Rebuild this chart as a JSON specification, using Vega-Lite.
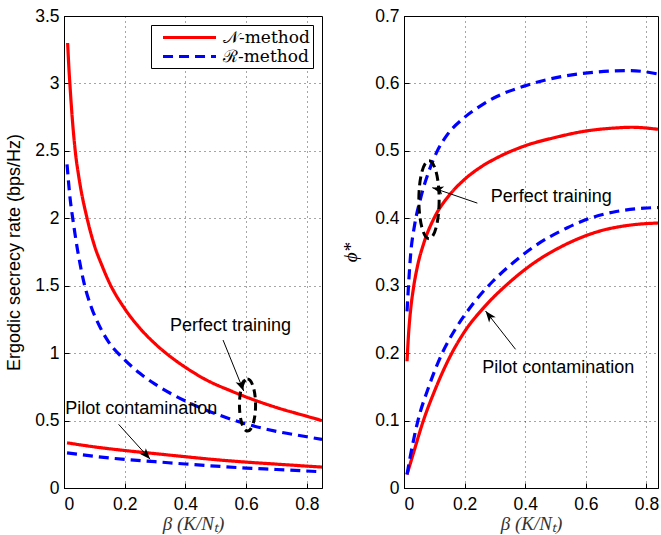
{
  "$schema": "https://vega.github.io/schema/vega-lite/v6.json",
  "padding": {"left": 5, "top": 6, "right": 0, "bottom": 0},
  "background": "white",
  "config": {
    "view": {"stroke": "black", "strokeWidth": 1},
    "axis": {
      "labelFont": "Liberation Sans", "labelFontSize": 17.5, "labelColor": "black",
      "titleFont": "Liberation Sans", "titleFontSize": 18, "titleFontWeight": "normal", "titleColor": "black",
      "domainColor": "black", "gridColor": "black", "gridDash": [1, 4], "gridOpacity": 0.7,
      "ticks": true, "tickSize": -5, "tickColor": "black", "labelPadding": 10, "labelExpr": "'' + datum.value"
    },
    "axisX": {"labelPadding": 12, "titleFont": "Liberation Serif", "titleFontStyle": "italic", "titleFontSize": 19, "titleColor": "#333", "titlePadding": 2},
    "legend": {
      "orient": "top-right", "offset": 9, "strokeColor": "black", "fillColor": "white",
      "padding": 3, "labelFont": "DejaVu Serif", "labelFontSize": 17, "labelColor": "black",
      "symbolType": "M-3.5,0H3.5", "symbolStrokeWidth": 3.2, "symbolSize": 229, "symbolOffset": 26,
      "labelOffset": 24, "rowPadding": 1, "title": null
    }
  },
  "datasets": {
    "left": [
      {"scenario": "perfect", "method": "𝒩-method", "beta": 0.012, "value": 3.30},
      {"scenario": "perfect", "method": "𝒩-method", "beta": 0.016, "value": 3.12},
      {"scenario": "perfect", "method": "𝒩-method", "beta": 0.021, "value": 2.94},
      {"scenario": "perfect", "method": "𝒩-method", "beta": 0.028, "value": 2.72},
      {"scenario": "perfect", "method": "𝒩-method", "beta": 0.037, "value": 2.50},
      {"scenario": "perfect", "method": "𝒩-method", "beta": 0.05, "value": 2.29},
      {"scenario": "perfect", "method": "𝒩-method", "beta": 0.076, "value": 2.00},
      {"scenario": "perfect", "method": "𝒩-method", "beta": 0.1, "value": 1.80},
      {"scenario": "perfect", "method": "𝒩-method", "beta": 0.125, "value": 1.65},
      {"scenario": "perfect", "method": "𝒩-method", "beta": 0.15, "value": 1.52},
      {"scenario": "perfect", "method": "𝒩-method", "beta": 0.2, "value": 1.33},
      {"scenario": "perfect", "method": "𝒩-method", "beta": 0.25, "value": 1.185},
      {"scenario": "perfect", "method": "𝒩-method", "beta": 0.3, "value": 1.07},
      {"scenario": "perfect", "method": "𝒩-method", "beta": 0.35, "value": 0.975},
      {"scenario": "perfect", "method": "𝒩-method", "beta": 0.4, "value": 0.895},
      {"scenario": "perfect", "method": "𝒩-method", "beta": 0.47, "value": 0.80},
      {"scenario": "perfect", "method": "𝒩-method", "beta": 0.55, "value": 0.72},
      {"scenario": "perfect", "method": "𝒩-method", "beta": 0.6, "value": 0.675},
      {"scenario": "perfect", "method": "𝒩-method", "beta": 0.7, "value": 0.597},
      {"scenario": "perfect", "method": "𝒩-method", "beta": 0.8, "value": 0.532},
      {"scenario": "perfect", "method": "𝒩-method", "beta": 0.85, "value": 0.50},
      {"scenario": "perfect", "method": "ℛ-method", "beta": 0.01, "value": 2.40},
      {"scenario": "perfect", "method": "ℛ-method", "beta": 0.02, "value": 2.15},
      {"scenario": "perfect", "method": "ℛ-method", "beta": 0.03, "value": 1.98},
      {"scenario": "perfect", "method": "ℛ-method", "beta": 0.045, "value": 1.76},
      {"scenario": "perfect", "method": "ℛ-method", "beta": 0.065, "value": 1.53},
      {"scenario": "perfect", "method": "ℛ-method", "beta": 0.09, "value": 1.34},
      {"scenario": "perfect", "method": "ℛ-method", "beta": 0.115, "value": 1.21},
      {"scenario": "perfect", "method": "ℛ-method", "beta": 0.142, "value": 1.10},
      {"scenario": "perfect", "method": "ℛ-method", "beta": 0.2, "value": 0.95},
      {"scenario": "perfect", "method": "ℛ-method", "beta": 0.25, "value": 0.85},
      {"scenario": "perfect", "method": "ℛ-method", "beta": 0.3, "value": 0.77},
      {"scenario": "perfect", "method": "ℛ-method", "beta": 0.4, "value": 0.645},
      {"scenario": "perfect", "method": "ℛ-method", "beta": 0.5, "value": 0.55},
      {"scenario": "perfect", "method": "ℛ-method", "beta": 0.6, "value": 0.475},
      {"scenario": "perfect", "method": "ℛ-method", "beta": 0.7, "value": 0.42},
      {"scenario": "perfect", "method": "ℛ-method", "beta": 0.8, "value": 0.38},
      {"scenario": "perfect", "method": "ℛ-method", "beta": 0.85, "value": 0.36},
      {"scenario": "pilot", "method": "𝒩-method", "beta": 0.01, "value": 0.335},
      {"scenario": "pilot", "method": "𝒩-method", "beta": 0.1, "value": 0.305},
      {"scenario": "pilot", "method": "𝒩-method", "beta": 0.2, "value": 0.278},
      {"scenario": "pilot", "method": "𝒩-method", "beta": 0.3, "value": 0.255},
      {"scenario": "pilot", "method": "𝒩-method", "beta": 0.4, "value": 0.232},
      {"scenario": "pilot", "method": "𝒩-method", "beta": 0.5, "value": 0.21},
      {"scenario": "pilot", "method": "𝒩-method", "beta": 0.6, "value": 0.192},
      {"scenario": "pilot", "method": "𝒩-method", "beta": 0.7, "value": 0.177},
      {"scenario": "pilot", "method": "𝒩-method", "beta": 0.85, "value": 0.155},
      {"scenario": "pilot", "method": "ℛ-method", "beta": 0.01, "value": 0.26},
      {"scenario": "pilot", "method": "ℛ-method", "beta": 0.1, "value": 0.235},
      {"scenario": "pilot", "method": "ℛ-method", "beta": 0.2, "value": 0.212},
      {"scenario": "pilot", "method": "ℛ-method", "beta": 0.3, "value": 0.195},
      {"scenario": "pilot", "method": "ℛ-method", "beta": 0.4, "value": 0.178},
      {"scenario": "pilot", "method": "ℛ-method", "beta": 0.5, "value": 0.162},
      {"scenario": "pilot", "method": "ℛ-method", "beta": 0.6, "value": 0.148},
      {"scenario": "pilot", "method": "ℛ-method", "beta": 0.7, "value": 0.137},
      {"scenario": "pilot", "method": "ℛ-method", "beta": 0.85, "value": 0.12}
    ],
    "right": [
      {"scenario": "perfect", "method": "𝒩-method", "beta": 0.01, "value": 0.188},
      {"scenario": "perfect", "method": "𝒩-method", "beta": 0.015, "value": 0.228},
      {"scenario": "perfect", "method": "𝒩-method", "beta": 0.022, "value": 0.265},
      {"scenario": "perfect", "method": "𝒩-method", "beta": 0.03, "value": 0.293},
      {"scenario": "perfect", "method": "𝒩-method", "beta": 0.044, "value": 0.328},
      {"scenario": "perfect", "method": "𝒩-method", "beta": 0.066, "value": 0.364},
      {"scenario": "perfect", "method": "𝒩-method", "beta": 0.099, "value": 0.40},
      {"scenario": "perfect", "method": "𝒩-method", "beta": 0.149, "value": 0.434},
      {"scenario": "perfect", "method": "𝒩-method", "beta": 0.198, "value": 0.457},
      {"scenario": "perfect", "method": "𝒩-method", "beta": 0.25, "value": 0.475},
      {"scenario": "perfect", "method": "𝒩-method", "beta": 0.308, "value": 0.49},
      {"scenario": "perfect", "method": "𝒩-method", "beta": 0.396, "value": 0.507},
      {"scenario": "perfect", "method": "𝒩-method", "beta": 0.5, "value": 0.52},
      {"scenario": "perfect", "method": "𝒩-method", "beta": 0.594, "value": 0.529},
      {"scenario": "perfect", "method": "𝒩-method", "beta": 0.7, "value": 0.534},
      {"scenario": "perfect", "method": "𝒩-method", "beta": 0.75, "value": 0.535},
      {"scenario": "perfect", "method": "𝒩-method", "beta": 0.838, "value": 0.532},
      {"scenario": "perfect", "method": "ℛ-method", "beta": 0.01, "value": 0.262},
      {"scenario": "perfect", "method": "ℛ-method", "beta": 0.022, "value": 0.347},
      {"scenario": "perfect", "method": "ℛ-method", "beta": 0.035, "value": 0.39},
      {"scenario": "perfect", "method": "ℛ-method", "beta": 0.055, "value": 0.43},
      {"scenario": "perfect", "method": "ℛ-method", "beta": 0.088, "value": 0.477},
      {"scenario": "perfect", "method": "ℛ-method", "beta": 0.11, "value": 0.50},
      {"scenario": "perfect", "method": "ℛ-method", "beta": 0.143, "value": 0.524},
      {"scenario": "perfect", "method": "ℛ-method", "beta": 0.198, "value": 0.549},
      {"scenario": "perfect", "method": "ℛ-method", "beta": 0.25, "value": 0.566},
      {"scenario": "perfect", "method": "ℛ-method", "beta": 0.308, "value": 0.581},
      {"scenario": "perfect", "method": "ℛ-method", "beta": 0.396, "value": 0.596},
      {"scenario": "perfect", "method": "ℛ-method", "beta": 0.506, "value": 0.609},
      {"scenario": "perfect", "method": "ℛ-method", "beta": 0.638, "value": 0.617},
      {"scenario": "perfect", "method": "ℛ-method", "beta": 0.748, "value": 0.619},
      {"scenario": "perfect", "method": "ℛ-method", "beta": 0.838, "value": 0.614},
      {"scenario": "pilot", "method": "𝒩-method", "beta": 0.01, "value": 0.02},
      {"scenario": "pilot", "method": "𝒩-method", "beta": 0.03, "value": 0.05},
      {"scenario": "pilot", "method": "𝒩-method", "beta": 0.064, "value": 0.10},
      {"scenario": "pilot", "method": "𝒩-method", "beta": 0.1, "value": 0.143},
      {"scenario": "pilot", "method": "𝒩-method", "beta": 0.152, "value": 0.195},
      {"scenario": "pilot", "method": "𝒩-method", "beta": 0.2, "value": 0.232},
      {"scenario": "pilot", "method": "𝒩-method", "beta": 0.264, "value": 0.268},
      {"scenario": "pilot", "method": "𝒩-method", "beta": 0.348, "value": 0.305},
      {"scenario": "pilot", "method": "𝒩-method", "beta": 0.42, "value": 0.331},
      {"scenario": "pilot", "method": "𝒩-method", "beta": 0.528, "value": 0.36},
      {"scenario": "pilot", "method": "𝒩-method", "beta": 0.638, "value": 0.38},
      {"scenario": "pilot", "method": "𝒩-method", "beta": 0.748, "value": 0.39},
      {"scenario": "pilot", "method": "𝒩-method", "beta": 0.838, "value": 0.393},
      {"scenario": "pilot", "method": "ℛ-method", "beta": 0.01, "value": 0.02},
      {"scenario": "pilot", "method": "ℛ-method", "beta": 0.02, "value": 0.045},
      {"scenario": "pilot", "method": "ℛ-method", "beta": 0.046, "value": 0.10},
      {"scenario": "pilot", "method": "ℛ-method", "beta": 0.08, "value": 0.148},
      {"scenario": "pilot", "method": "ℛ-method", "beta": 0.126, "value": 0.20},
      {"scenario": "pilot", "method": "ℛ-method", "beta": 0.17, "value": 0.236},
      {"scenario": "pilot", "method": "ℛ-method", "beta": 0.231, "value": 0.275},
      {"scenario": "pilot", "method": "ℛ-method", "beta": 0.294, "value": 0.307},
      {"scenario": "pilot", "method": "ℛ-method", "beta": 0.36, "value": 0.334},
      {"scenario": "pilot", "method": "ℛ-method", "beta": 0.429, "value": 0.358},
      {"scenario": "pilot", "method": "ℛ-method", "beta": 0.539, "value": 0.386},
      {"scenario": "pilot", "method": "ℛ-method", "beta": 0.62, "value": 0.401},
      {"scenario": "pilot", "method": "ℛ-method", "beta": 0.7, "value": 0.41},
      {"scenario": "pilot", "method": "ℛ-method", "beta": 0.792, "value": 0.415},
      {"scenario": "pilot", "method": "ℛ-method", "beta": 0.838, "value": 0.416}
    ],
    "leftText": [
      {"label": "Perfect training", "beta": 0.349, "value": 1.20},
      {"label": "Pilot contamination", "beta": 0.004, "value": 0.583}
    ],
    "leftArrows": [
      {"id": "perfect", "beta": 0.524, "value": 1.097},
      {"id": "perfect", "beta": 0.592, "value": 0.719},
      {"id": "pilot", "beta": 0.18, "value": 0.472},
      {"id": "pilot", "beta": 0.284, "value": 0.213}
    ],
    "leftEllipse": [{"beta": 0.6046, "value": 0.615}],
    "rightText": [
      {"label": "Perfect training", "beta": 0.286, "value": 0.432},
      {"label": "Pilot contamination", "beta": 0.258, "value": 0.1775}
    ],
    "rightArrows": [
      {"id": "perfect", "beta": 0.242, "value": 0.4225},
      {"id": "perfect", "beta": 0.0934, "value": 0.4454},
      {"id": "pilot", "beta": 0.368, "value": 0.2057},
      {"id": "pilot", "beta": 0.269, "value": 0.2625}
    ],
    "rightEllipse": [{"beta": 0.0825, "value": 0.4276}]
  },
  "spacing": 18,
  "resolve": {
    "scale": {"color": "independent", "strokeDash": "independent"},
    "legend": {"color": "independent", "strokeDash": "independent"}
  },
  "hconcat": [
    {
      "width": 258,
      "height": 472,
      "layer": [
        {
          "data": {"name": "left"},
          "mark": {"type": "line", "interpolate": "monotone", "strokeWidth": 3.2, "clip": true},
          "encoding": {
            "x": {"field": "beta", "type": "quantitative", "scale": {"domain": [0, 0.85], "nice": false, "zero": false},
                  "axis": {"values": [0, 0.2, 0.4, 0.6, 0.8], "title": "β (K/Nₜ)"}},
            "y": {"field": "value", "type": "quantitative", "scale": {"domain": [0, 3.5], "nice": false},
                  "axis": {"values": [0, 0.5, 1, 1.5, 2, 2.5, 3, 3.5], "title": "Ergodic secrecy rate (bps/Hz)", "titlePadding": 11}},
            "color": {"field": "method", "type": "nominal", "scale": {"domain": ["𝒩-method", "ℛ-method"], "range": ["#ff0000", "#0000ff"]}},
            "strokeDash": {"field": "method", "type": "nominal", "scale": {"domain": ["𝒩-method", "ℛ-method"], "range": [[1, 0], [10, 6]]}},
            "detail": {"field": "scenario"}
          }
        },
        {
          "data": {"name": "leftArrows"},
          "mark": {"type": "line", "color": "black", "strokeWidth": 1},
          "encoding": {
            "x": {"field": "beta", "type": "quantitative"},
            "y": {"field": "value", "type": "quantitative"},
            "detail": {"field": "id"}
          }
        },
        {
          "data": {"name": "leftArrows"},
          "transform": [{"filter": "datum.id == 'perfect' && datum.value < 1"}],
          "mark": {"type": "point", "shape": "M0,0 L-0.6,-1.6 L0,-1.2 L0.6,-1.6 Z", "filled": true, "color": "black", "opacity": 1, "size": 196, "angle": -22},
          "encoding": {
            "x": {"field": "beta", "type": "quantitative"},
            "y": {"field": "value", "type": "quantitative"}
          }
        },
        {
          "data": {"name": "leftArrows"},
          "transform": [{"filter": "datum.id == 'pilot' && datum.value < 0.3"}],
          "mark": {"type": "point", "shape": "M0,0 L-0.6,-1.6 L0,-1.2 L0.6,-1.6 Z", "filled": true, "color": "black", "opacity": 1, "size": 196, "angle": -42},
          "encoding": {
            "x": {"field": "beta", "type": "quantitative"},
            "y": {"field": "value", "type": "quantitative"}
          }
        },
        {
          "data": {"name": "leftEllipse"},
          "mark": {"type": "point", "shape": "M0,-1 A0.31,1 0 1,1 0,1 A0.31,1 0 1,1 0,-1 Z", "filled": false, "stroke": "black", "strokeWidth": 3, "strokeDash": [8, 5], "opacity": 1, "size": 2704},
          "encoding": {
            "x": {"field": "beta", "type": "quantitative"},
            "y": {"field": "value", "type": "quantitative"}
          }
        },
        {
          "data": {"name": "leftText"},
          "mark": {"type": "text", "align": "left", "baseline": "middle", "font": "Liberation Sans", "fontSize": 18, "color": "black"},
          "encoding": {
            "x": {"field": "beta", "type": "quantitative"},
            "y": {"field": "value", "type": "quantitative"},
            "text": {"field": "label"}
          }
        }
      ]
    },
    {
      "width": 254,
      "height": 472,
      "layer": [
        {
          "data": {"name": "right"},
          "mark": {"type": "line", "interpolate": "monotone", "strokeWidth": 3.2, "clip": true},
          "encoding": {
            "x": {"field": "beta", "type": "quantitative", "scale": {"domain": [0, 0.838], "nice": false, "zero": false},
                  "axis": {"values": [0, 0.2, 0.4, 0.6, 0.8], "title": "β (K/Nₜ)"}},
            "y": {"field": "value", "type": "quantitative", "scale": {"domain": [0, 0.7], "nice": false},
                  "axis": {"values": [0, 0.1, 0.2, 0.3, 0.4, 0.5, 0.6, 0.7], "title": "ϕ*", "titleFont": "Liberation Serif", "titleFontStyle": "italic", "titleFontSize": 19, "titlePadding": 14}},
            "color": {"field": "method", "type": "nominal", "scale": {"domain": ["𝒩-method", "ℛ-method"], "range": ["#ff0000", "#0000ff"]}, "legend": null},
            "strokeDash": {"field": "method", "type": "nominal", "scale": {"domain": ["𝒩-method", "ℛ-method"], "range": [[1, 0], [10, 6]]}, "legend": null},
            "detail": {"field": "scenario"}
          }
        },
        {
          "data": {"name": "rightArrows"},
          "mark": {"type": "line", "color": "black", "strokeWidth": 1},
          "encoding": {
            "x": {"field": "beta", "type": "quantitative"},
            "y": {"field": "value", "type": "quantitative"},
            "detail": {"field": "id"}
          }
        },
        {
          "data": {"name": "rightArrows"},
          "transform": [{"filter": "datum.id == 'perfect' && datum.beta < 0.1"}],
          "mark": {"type": "point", "shape": "M0,0 L-0.6,-1.6 L0,-1.2 L0.6,-1.6 Z", "filled": true, "color": "black", "opacity": 1, "size": 196, "angle": 104.5},
          "encoding": {
            "x": {"field": "beta", "type": "quantitative"},
            "y": {"field": "value", "type": "quantitative"}
          }
        },
        {
          "data": {"name": "rightArrows"},
          "transform": [{"filter": "datum.id == 'pilot' && datum.beta < 0.3"}],
          "mark": {"type": "point", "shape": "M0,0 L-0.6,-1.6 L0,-1.2 L0.6,-1.6 Z", "filled": true, "color": "black", "opacity": 1, "size": 196, "angle": 141.9},
          "encoding": {
            "x": {"field": "beta", "type": "quantitative"},
            "y": {"field": "value", "type": "quantitative"}
          }
        },
        {
          "data": {"name": "rightEllipse"},
          "mark": {"type": "point", "shape": "M0,-1 A0.26,1 0 1,1 0,1 A0.26,1 0 1,1 0,-1 Z", "filled": false, "stroke": "black", "strokeWidth": 3, "strokeDash": [9, 5], "opacity": 1, "size": 6084},
          "encoding": {
            "x": {"field": "beta", "type": "quantitative"},
            "y": {"field": "value", "type": "quantitative"}
          }
        },
        {
          "data": {"name": "rightText"},
          "mark": {"type": "text", "align": "left", "baseline": "middle", "font": "Liberation Sans", "fontSize": 18, "color": "black"},
          "encoding": {
            "x": {"field": "beta", "type": "quantitative"},
            "y": {"field": "value", "type": "quantitative"},
            "text": {"field": "label"}
          }
        }
      ]
    }
  ]
}
